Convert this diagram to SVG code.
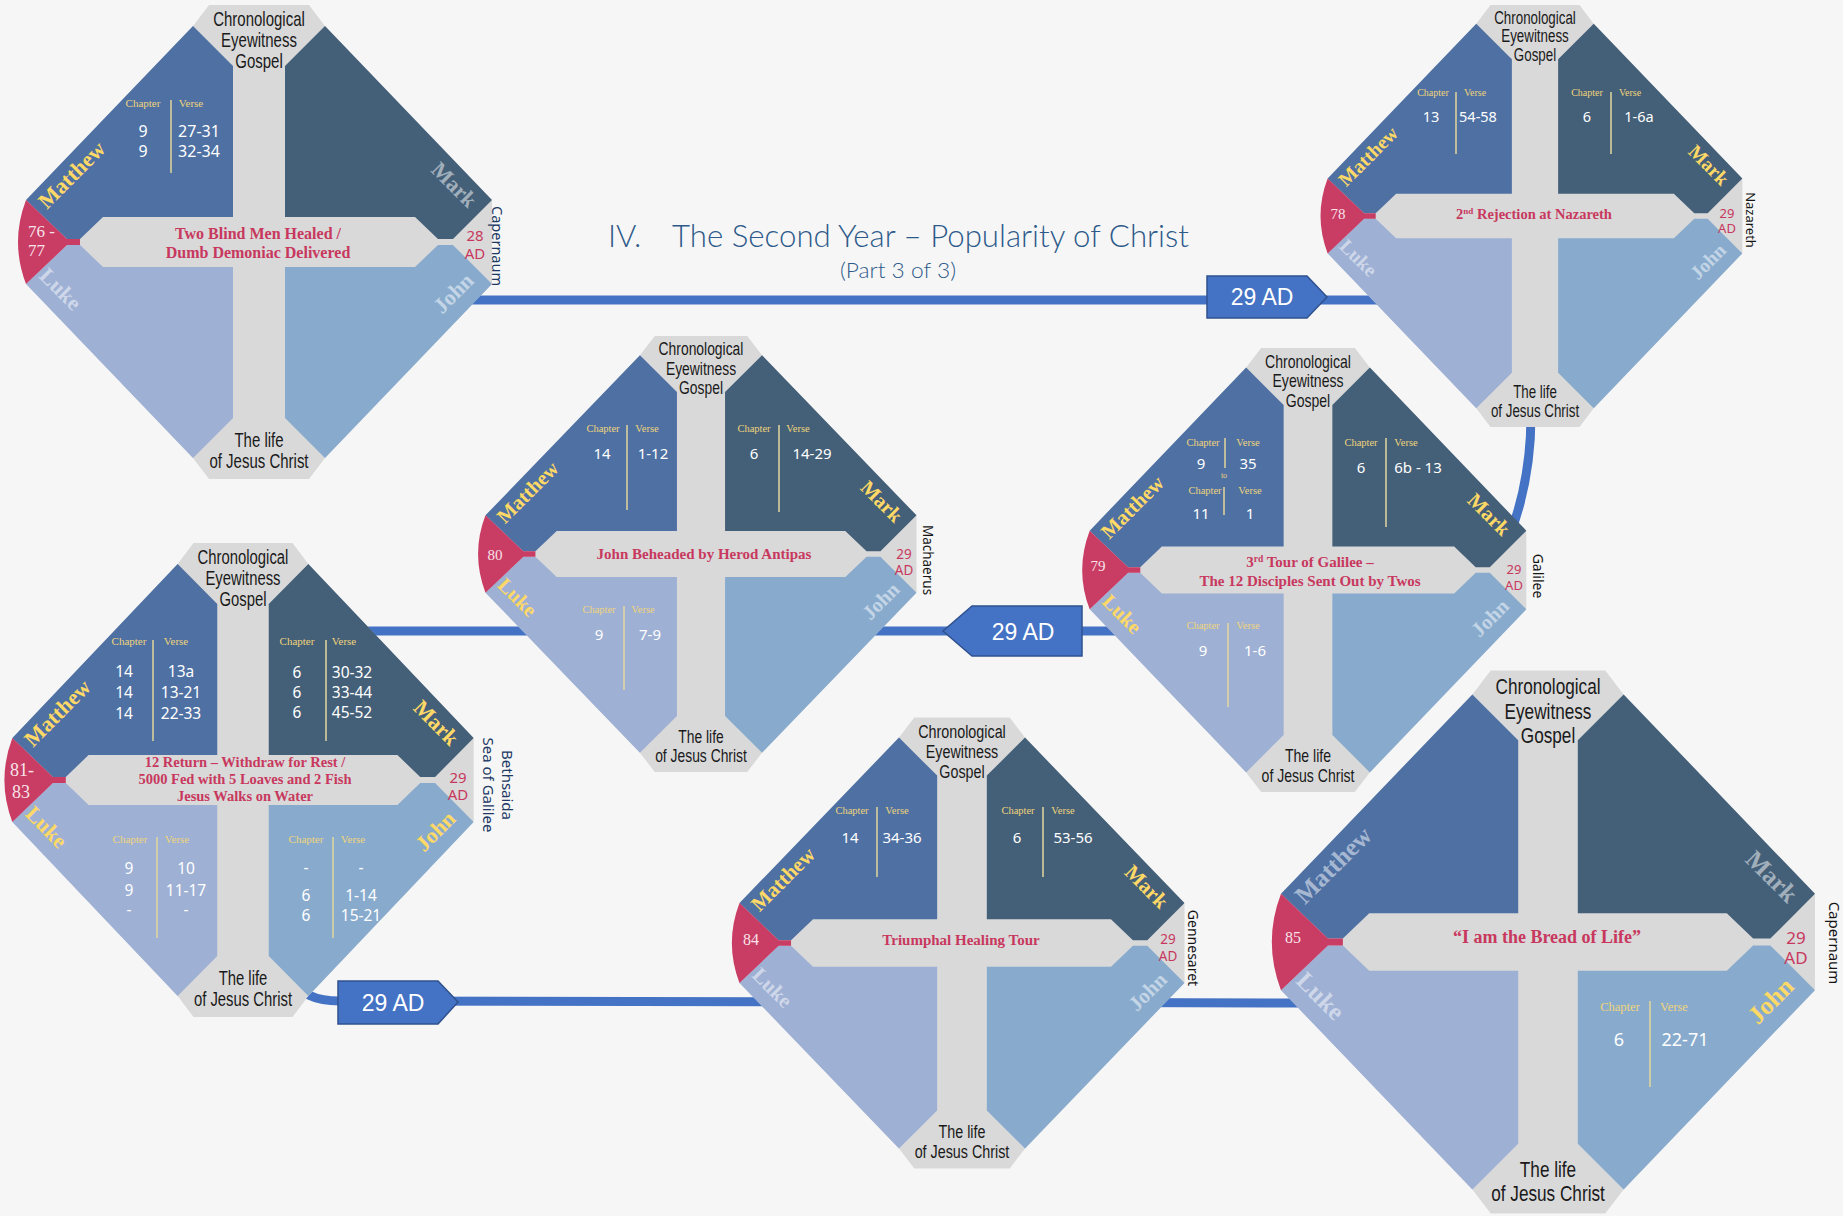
<svg xmlns="http://www.w3.org/2000/svg" width="1843" height="1216" viewBox="0 0 1843 1216">
<defs>
<style>
.gray{fill:#d9d9d9}
.mt{fill:#4e70a3}
.mk{fill:#445f78}
.lk{fill:#9eb0d4}
.jn{fill:#88abcd}
.bd{fill:#c93c64}
.cap{font-family:"Liberation Sans",Arial,sans-serif;font-size:20px;fill:#1a1a1a;text-anchor:middle}
.gl{font-family:"Liberation Serif","Times New Roman",serif;font-weight:bold;font-size:22px}
.gy{fill:#ffd966}
.gw{fill:#ffffff;fill-opacity:0.5}
.hd{font-family:"Liberation Serif","Times New Roman",serif;fill:#efd47c;text-anchor:middle}
.v{font-family:"Noto Sans","Open Sans",sans-serif;fill:#ffffff;text-anchor:middle}
.dv{stroke:#e3d79c;stroke-width:1.5}
.tt{font-family:"Liberation Serif","Times New Roman",serif;font-weight:bold;fill:#c8385e;text-anchor:middle}
.nm{font-family:"Liberation Serif","Times New Roman",serif;fill:#f7e3e9}
.ad{font-family:"Noto Sans","Open Sans",sans-serif;fill:#c8385e;text-anchor:middle}
.loc{font-family:"Noto Sans","Open Sans",sans-serif;fill:#151515;text-anchor:middle}
.navy{fill:#203864}
.conn{fill:none;stroke:#4472c4;stroke-width:9}
.box{fill:#4472c4;stroke:#2f528f;stroke-width:1.5}
.bt{font-family:"Liberation Sans",Arial,sans-serif;font-size:23px;fill:#ffffff;text-anchor:middle}
.hl{font-family:Lato,"Liberation Sans",Arial,sans-serif;font-weight:300;fill:#2d5a8a}
</style>
<g id="ns">
<polygon class="gray" points="-50,-237 50,-237 66,-216 233,-41 233,41 66,216 50,237 -50,237 -66,216 -233,41 -233,-41 -66,-216"/>
<polygon class="mt" points="-66,-216 -26,-176 -26,-25 -156,-25 -179,-3 -192,-3 -233,-42"/>
<polygon class="mk" points="66,-216 26,-176 26,-25 156,-25 179,-3 194,-3 233,-42"/>
<polygon class="lk" points="-66,216 -26,176 -26,25 -156,25 -179,3 -192,3 -233,42"/>
<polygon class="jn" points="66,216 26,176 26,25 156,25 179,3 194,3 233,42"/>
<path class="bd" d="M -233,-42 L -192,-3 L -179,-3 L -179,3 L -192,3 L -233,42 Q -249,0 -233,-42 Z"/>
</g>
</defs>
<rect width="1843" height="1216" fill="#f6f6f6"/>

<g id="title">
<text class="hl" font-size="31" y="247"><tspan x="608">IV.</tspan><tspan x="672" textLength="517" lengthAdjust="spacingAndGlyphs">The Second Year – Popularity of Christ</tspan></text>
<text class="hl" font-size="21" x="898" y="278" text-anchor="middle" textLength="116" lengthAdjust="spacingAndGlyphs">(Part 3 of 3)</text>
</g>

<g id="connectors">
<path class="conn" d="M 450,300 L 1400,300"/>
<path class="conn" d="M 1531,415 Q 1531,482 1508,540"/>
<path class="conn" d="M 330,631 L 1150,631"/>
<path class="conn" d="M 292,978 Q 302,1001 340,1001 L 1330,1003"/>
<g id="box-1"><polygon class="box" points="1207,276 1307,276 1327,297 1307,318 1207,318"/><text class="bt" x="1262" y="305">29 AD</text></g>
<g id="box-2"><polygon class="box" points="943,631 972,606 1082,606 1082,656 972,656"/><text class="bt" x="1023" y="640">29 AD</text></g>
<g id="box-3"><polygon class="box" points="338,981 438,981 458,1002 438,1024 338,1024"/><text class="bt" x="393" y="1011">29 AD</text></g>
</g>

<g id="node-76-77">
<g transform="translate(259,242)">
<use href="#ns"/>
<g class="cap"><text transform="scale(0.75,1)" y="-216">Chronological</text><text transform="scale(0.75,1)" y="-195">Eyewitness</text><text transform="scale(0.75,1)" y="-174">Gospel</text><text transform="scale(0.75,1)" y="205">The life</text><text transform="scale(0.75,1)" y="226">of Jesus Christ</text></g>
<text class="gl gy" transform="translate(-212,-32) rotate(-45)">Matthew</text>
<text class="gl gw" text-anchor="end" transform="translate(209,-33) rotate(45)">Mark</text>
<text class="gl gw" transform="translate(-221,35) rotate(45)">Luke</text>
<text class="gl gw" text-anchor="end" transform="translate(216,40) rotate(-45)">John</text>
</g>
<text class="nm" font-size="17" x="28" y="237">76 -</text>
<text class="nm" font-size="17" x="28" y="256">77</text>
<text class="tt" font-size="16" x="258" y="239">Two Blind Men Healed /</text>
<text class="tt" font-size="16" x="258" y="258">Dumb Demoniac Delivered</text>
<text class="ad" font-size="15" x="475" y="241">28</text>
<text class="ad" font-size="15" x="475" y="259">AD</text>
<text class="loc navy" font-size="14.5" transform="translate(492,246) rotate(90)">Capernaum</text>
<text class="hd" font-size="11" x="143" y="107">Chapter</text>
<text class="hd" font-size="11" x="191" y="107">Verse</text>
<line class="dv" x1="171" y1="100" x2="171" y2="173"/>
<text class="v" font-size="16" x="143" y="137">9</text>
<text class="v" font-size="16" x="199" y="137">27-31</text>
<text class="v" font-size="16" x="143" y="157">9</text>
<text class="v" font-size="16" x="199" y="157">32-34</text>
</g>

<g id="node-78">
<g transform="translate(1535,216) scale(0.89)">
<use href="#ns"/>
<g class="cap"><text transform="scale(0.75,1)" y="-216">Chronological</text><text transform="scale(0.75,1)" y="-195">Eyewitness</text><text transform="scale(0.75,1)" y="-174">Gospel</text><text transform="scale(0.75,1)" y="205">The life</text><text transform="scale(0.75,1)" y="226">of Jesus Christ</text></g>
<text class="gl gy" transform="translate(-212,-32) rotate(-45)">Matthew</text>
<text class="gl gy" text-anchor="end" transform="translate(209,-33) rotate(45)">Mark</text>
<text class="gl gw" transform="translate(-221,35) rotate(45)">Luke</text>
<text class="gl gw" text-anchor="end" transform="translate(216,40) rotate(-45)">John</text>
</g>
<text class="nm" font-size="15" x="1338" y="219" text-anchor="middle">78</text>
<text class="tt" font-size="14.5" x="1534" y="219">2<tspan font-size="9" baseline-shift="super">nd</tspan> Rejection at Nazareth</text>
<text class="ad" font-size="13" x="1727" y="218">29</text>
<text class="ad" font-size="13" x="1727" y="233">AD</text>
<text class="loc" font-size="13" transform="translate(1745.5,220) rotate(90)">Nazareth</text>
<text class="hd" font-size="10" x="1433" y="96">Chapter</text>
<text class="hd" font-size="10" x="1475" y="96">Verse</text>
<line class="dv" x1="1456" y1="92" x2="1456" y2="154"/>
<text class="v" font-size="14.5" x="1431" y="122">13</text>
<text class="v" font-size="14.5" x="1478" y="122">54-58</text>
<text class="hd" font-size="10" x="1587" y="96">Chapter</text>
<text class="hd" font-size="10" x="1630" y="96">Verse</text>
<line class="dv" x1="1611" y1="92" x2="1611" y2="154"/>
<text class="v" font-size="14.5" x="1587" y="122">6</text>
<text class="v" font-size="14.5" x="1639" y="122">1-6a</text>
</g>

<g id="node-80">
<g transform="translate(701,554) scale(0.925,0.92)">
<use href="#ns"/>
<g class="cap"><text transform="scale(0.75,1)" y="-216">Chronological</text><text transform="scale(0.75,1)" y="-195">Eyewitness</text><text transform="scale(0.75,1)" y="-174">Gospel</text><text transform="scale(0.75,1)" y="205">The life</text><text transform="scale(0.75,1)" y="226">of Jesus Christ</text></g>
<text class="gl gy" transform="translate(-212,-32) rotate(-45)">Matthew</text>
<text class="gl gy" text-anchor="end" transform="translate(209,-33) rotate(45)">Mark</text>
<text class="gl gy" transform="translate(-221,35) rotate(45)">Luke</text>
<text class="gl gw" text-anchor="end" transform="translate(216,40) rotate(-45)">John</text>
</g>
<text class="nm" font-size="15" x="495" y="560" text-anchor="middle">80</text>
<text class="tt" font-size="15" x="704" y="559">John Beheaded by Herod Antipas</text>
<text class="ad" font-size="13.5" x="904" y="559">29</text>
<text class="ad" font-size="13.5" x="904" y="575">AD</text>
<text class="loc" font-size="13.5" transform="translate(923,560) rotate(90)">Machaerus</text>
<text class="hd" font-size="10.5" x="603" y="432">Chapter</text>
<text class="hd" font-size="10.5" x="647" y="432">Verse</text>
<line class="dv" x1="627" y1="425" x2="627" y2="510"/>
<text class="v" font-size="15" x="602" y="459">14</text>
<text class="v" font-size="15" x="653" y="459">1-12</text>
<text class="hd" font-size="10.5" x="754" y="432">Chapter</text>
<text class="hd" font-size="10.5" x="798" y="432">Verse</text>
<line class="dv" x1="779" y1="425" x2="779" y2="512"/>
<text class="v" font-size="15" x="754" y="459">6</text>
<text class="v" font-size="15" x="812" y="459">14-29</text>
<text class="hd" font-size="10.5" x="599" y="613">Chapter</text>
<text class="hd" font-size="10.5" x="643" y="613">Verse</text>
<line class="dv" x1="624" y1="606" x2="624" y2="690"/>
<text class="v" font-size="15" x="599" y="640">9</text>
<text class="v" font-size="15" x="650" y="640">7-9</text>
</g>

<g id="node-79">
<g transform="translate(1308,570) scale(0.937)">
<use href="#ns"/>
<g class="cap"><text transform="scale(0.75,1)" y="-216">Chronological</text><text transform="scale(0.75,1)" y="-195">Eyewitness</text><text transform="scale(0.75,1)" y="-174">Gospel</text><text transform="scale(0.75,1)" y="205">The life</text><text transform="scale(0.75,1)" y="226">of Jesus Christ</text></g>
<text class="gl gy" transform="translate(-212,-32) rotate(-45)">Matthew</text>
<text class="gl gy" text-anchor="end" transform="translate(207,-35) rotate(45)">Mark</text>
<text class="gl gy" transform="translate(-221,35) rotate(45)">Luke</text>
<text class="gl gw" text-anchor="end" transform="translate(216,40) rotate(-45)">John</text>
</g>
<text class="nm" font-size="15" x="1098" y="571" text-anchor="middle">79</text>
<text class="tt" font-size="15" x="1310" y="567">3<tspan font-size="9.5" baseline-shift="super">rd</tspan> Tour of Galilee –</text>
<text class="tt" font-size="15" x="1310" y="586">The 12 Disciples Sent Out by Twos</text>
<text class="ad" font-size="13" x="1514" y="574">29</text>
<text class="ad" font-size="13" x="1514" y="590">AD</text>
<text class="loc" font-size="14" transform="translate(1533,576) rotate(90)">Galilee</text>
<text class="hd" font-size="10.5" x="1203" y="446">Chapter</text>
<text class="hd" font-size="10.5" x="1248" y="446">Verse</text>
<line class="dv" x1="1225" y1="438" x2="1225" y2="468"/>
<text class="v" font-size="15" x="1201" y="469">9</text>
<text class="v" font-size="15" x="1248" y="469">35</text>
<text class="hd" font-size="8" x="1224" y="478">to</text>
<text class="hd" font-size="10.5" x="1205" y="494">Chapter</text>
<text class="hd" font-size="10.5" x="1250" y="494">Verse</text>
<line class="dv" x1="1224" y1="487" x2="1224" y2="515"/>
<text class="v" font-size="15" x="1201" y="519">11</text>
<text class="v" font-size="15" x="1250" y="519">1</text>
<text class="hd" font-size="10.5" x="1361" y="446">Chapter</text>
<text class="hd" font-size="10.5" x="1406" y="446">Verse</text>
<line class="dv" x1="1386" y1="438" x2="1386" y2="527"/>
<text class="v" font-size="15" x="1361" y="473">6</text>
<text class="v" font-size="15" x="1418" y="473">6b - 13</text>
<text class="hd" font-size="10.5" x="1203" y="629">Chapter</text>
<text class="hd" font-size="10.5" x="1248" y="629">Verse</text>
<line class="dv" x1="1228" y1="623" x2="1228" y2="707"/>
<text class="v" font-size="15" x="1203" y="656">9</text>
<text class="v" font-size="15" x="1255" y="656">1-6</text>
</g>

<g id="node-81-83">
<g transform="translate(243,780) scale(0.99,1)">
<use href="#ns"/>
<g class="cap"><text transform="scale(0.75,1)" y="-216">Chronological</text><text transform="scale(0.75,1)" y="-195">Eyewitness</text><text transform="scale(0.75,1)" y="-174">Gospel</text><text transform="scale(0.75,1)" y="205">The life</text><text transform="scale(0.75,1)" y="226">of Jesus Christ</text></g>
<text class="gl gy" transform="translate(-212,-32) rotate(-45)">Matthew</text>
<text class="gl gy" text-anchor="end" transform="translate(209,-33) rotate(45)">Mark</text>
<text class="gl gy" transform="translate(-221,35) rotate(45)">Luke</text>
<text class="gl gy" text-anchor="end" transform="translate(216,40) rotate(-45)">John</text>
</g>
<text class="nm" font-size="18" x="10" y="776">81-</text>
<text class="nm" font-size="18" x="12" y="798">83</text>
<text class="tt" font-size="14.5" x="245" y="767">12 Return – Withdraw for Rest /</text>
<text class="tt" font-size="14.5" x="245" y="784">5000 Fed with 5 Loaves and 2 Fish</text>
<text class="tt" font-size="14.5" x="245" y="801">Jesus Walks on Water</text>
<text class="ad" font-size="15" x="458" y="783">29</text>
<text class="ad" font-size="15" x="458" y="800">AD</text>
<text class="loc navy" font-size="15" transform="translate(502,785) rotate(90)"><tspan x="0" y="0">Bethsaida</tspan><tspan x="0" y="19">Sea of Galilee</tspan></text>
<text class="hd" font-size="11" x="129" y="645">Chapter</text>
<text class="hd" font-size="11" x="176" y="645">Verse</text>
<line class="dv" x1="153" y1="640" x2="153" y2="741"/>
<text class="v" font-size="15.5" x="124" y="677">14</text>
<text class="v" font-size="15.5" x="181" y="677">13a</text>
<text class="v" font-size="15.5" x="124" y="698">14</text>
<text class="v" font-size="15.5" x="181" y="698">13-21</text>
<text class="v" font-size="15.5" x="124" y="719">14</text>
<text class="v" font-size="15.5" x="181" y="719">22-33</text>
<text class="hd" font-size="11" x="297" y="645">Chapter</text>
<text class="hd" font-size="11" x="344" y="645">Verse</text>
<line class="dv" x1="326" y1="640" x2="326" y2="741"/>
<text class="v" font-size="15.5" x="297" y="678">6</text>
<text class="v" font-size="15.5" x="352" y="678">30-32</text>
<text class="v" font-size="15.5" x="297" y="698">6</text>
<text class="v" font-size="15.5" x="352" y="698">33-44</text>
<text class="v" font-size="15.5" x="297" y="718">6</text>
<text class="v" font-size="15.5" x="352" y="718">45-52</text>
<text class="hd" font-size="11" x="130" y="843">Chapter</text>
<text class="hd" font-size="11" x="177" y="843">Verse</text>
<line class="dv" x1="157" y1="837" x2="157" y2="938"/>
<text class="v" font-size="15.5" x="129" y="874">9</text>
<text class="v" font-size="15.5" x="186" y="874">10</text>
<text class="v" font-size="15.5" x="129" y="896">9</text>
<text class="v" font-size="15.5" x="186" y="896">11-17</text>
<text class="v" font-size="15.5" x="129" y="915">-</text>
<text class="v" font-size="15.5" x="186" y="915">-</text>
<text class="hd" font-size="11" x="306" y="843">Chapter</text>
<text class="hd" font-size="11" x="353" y="843">Verse</text>
<line class="dv" x1="333" y1="837" x2="333" y2="938"/>
<text class="v" font-size="15.5" x="306" y="873">-</text>
<text class="v" font-size="15.5" x="361" y="873">-</text>
<text class="v" font-size="15.5" x="306" y="901">6</text>
<text class="v" font-size="15.5" x="361" y="901">1-14</text>
<text class="v" font-size="15.5" x="306" y="921">6</text>
<text class="v" font-size="15.5" x="361" y="921">15-21</text>
</g>

<g id="node-84">
<g transform="translate(962,943) scale(0.955,0.951)">
<use href="#ns"/>
<g class="cap"><text transform="scale(0.75,1)" y="-216">Chronological</text><text transform="scale(0.75,1)" y="-195">Eyewitness</text><text transform="scale(0.75,1)" y="-174">Gospel</text><text transform="scale(0.75,1)" y="205">The life</text><text transform="scale(0.75,1)" y="226">of Jesus Christ</text></g>
<text class="gl gy" transform="translate(-212,-32) rotate(-45)">Matthew</text>
<text class="gl gy" text-anchor="end" transform="translate(207,-35) rotate(45)">Mark</text>
<text class="gl gw" transform="translate(-221,35) rotate(45)">Luke</text>
<text class="gl gw" text-anchor="end" transform="translate(216,40) rotate(-45)">John</text>
</g>
<text class="nm" font-size="16" x="751" y="945" text-anchor="middle">84</text>
<text class="tt" font-size="15" x="961" y="945">Triumphal Healing Tour</text>
<text class="ad" font-size="13.5" x="1168" y="944">29</text>
<text class="ad" font-size="13.5" x="1168" y="961">AD</text>
<text class="loc" font-size="14" transform="translate(1188,948) rotate(90)">Gennesaret</text>
<text class="hd" font-size="10.5" x="852" y="814">Chapter</text>
<text class="hd" font-size="10.5" x="897" y="814">Verse</text>
<line class="dv" x1="877" y1="807" x2="877" y2="877"/>
<text class="v" font-size="15" x="850" y="843">14</text>
<text class="v" font-size="15" x="902" y="843">34-36</text>
<text class="hd" font-size="10.5" x="1018" y="814">Chapter</text>
<text class="hd" font-size="10.5" x="1063" y="814">Verse</text>
<line class="dv" x1="1043" y1="807" x2="1043" y2="877"/>
<text class="v" font-size="15" x="1017" y="843">6</text>
<text class="v" font-size="15" x="1073" y="843">53-56</text>
</g>

<g id="node-85">
<g transform="translate(1548,942) scale(1.146)">
<use href="#ns"/>
<g class="cap"><text transform="scale(0.75,1)" y="-216">Chronological</text><text transform="scale(0.75,1)" y="-195">Eyewitness</text><text transform="scale(0.75,1)" y="-174">Gospel</text><text transform="scale(0.75,1)" y="205">The life</text><text transform="scale(0.75,1)" y="226">of Jesus Christ</text></g>
<text class="gl gw" transform="translate(-212,-32) rotate(-45)">Matthew</text>
<text class="gl gw" text-anchor="end" transform="translate(209,-33) rotate(45)">Mark</text>
<text class="gl gw" transform="translate(-221,35) rotate(45)">Luke</text>
<text class="gl gy" text-anchor="end" transform="translate(216,40) rotate(-45)">John</text>
</g>
<text class="nm" font-size="16" x="1293" y="943" text-anchor="middle">85</text>
<text class="tt" font-size="18" x="1547" y="943">“I am the Bread of Life”</text>
<text class="ad" font-size="17" x="1796" y="944">29</text>
<text class="ad" font-size="17" x="1796" y="964">AD</text>
<text class="loc" font-size="15" transform="translate(1829,943) rotate(90)">Capernaum</text>
<text class="hd" font-size="12.5" x="1620" y="1011">Chapter</text>
<text class="hd" font-size="12.5" x="1674" y="1011">Verse</text>
<line class="dv" x1="1650" y1="1001" x2="1650" y2="1087"/>
<text class="v" font-size="18" x="1619" y="1046">6</text>
<text class="v" font-size="18" x="1685" y="1046">22-71</text>
</g>
</svg>
